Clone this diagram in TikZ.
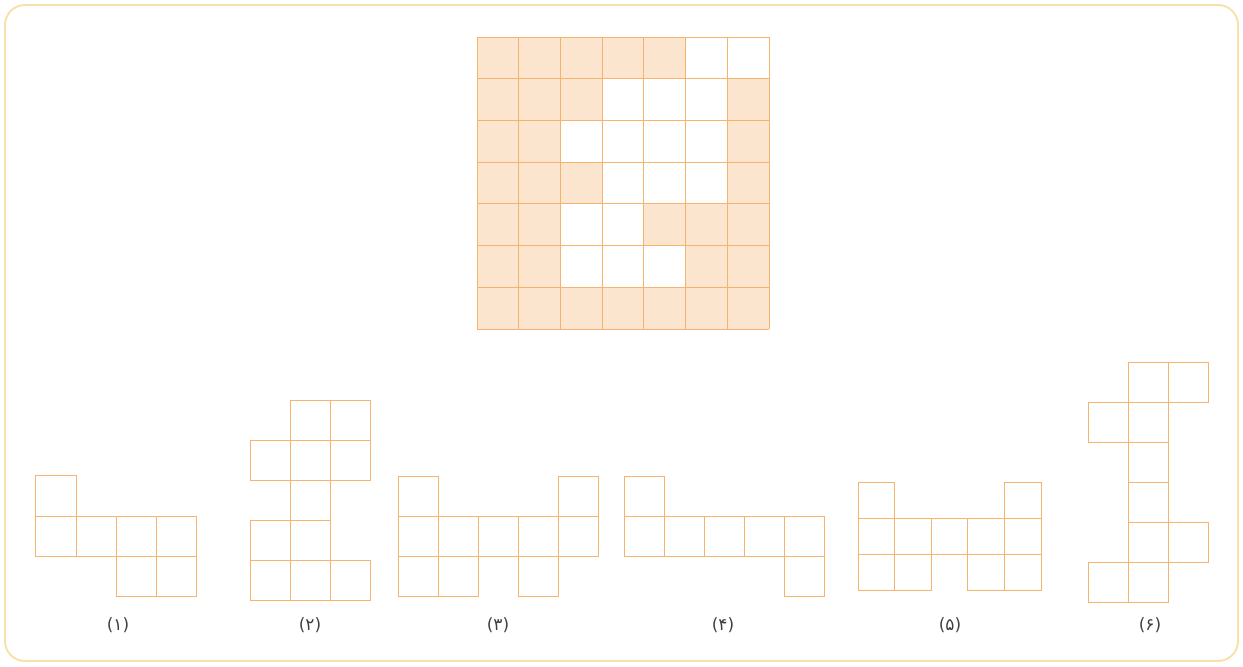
\documentclass[tikz,border=0pt]{standalone}
\usepackage{fontspec}
\newfontfamily\persianfont[Script=Arabic]{DejaVu Sans}
\usetikzlibrary{positioning}
\definecolor{TILE-LINE}{RGB}{245,180,110}
\definecolor{TILE-FILL}{RGB}{252,229,206}
\definecolor{FRAME}{RGB}{246,225,170}
\tikzset{
  cell/.style={draw=TILE-LINE, line width=0.8pt},
  numlabel/.style={font=\persianfont\fontsize{14.5}{16}\selectfont, text=black!75}
}

\begin{document}
\begin{tikzpicture}[x=0.03cm,y=-0.03cm]
  \useasboundingbox (0,0) rectangle (1243,666);
  % outer frame
  \draw[FRAME, line width=1.6pt, rounded corners=17pt] (5,5) rectangle (1238,661);

  % board (7x7)
  \begin{scope}[shift={(477,37)}]
    \fill[TILE-FILL] (0,0) rectangle (292,292);
    \foreach \c/\r in {5/0,6/0,3/1,4/1,5/1,2/2,3/2,4/2,5/2,3/3,4/3,5/3,2/4,3/4,2/5,3/5,4/5}
      \fill[white] (\c*41.71,\r*41.71) rectangle ++(41.71,41.71);
    \foreach \i in {0,...,7} {
      \draw[cell] (\i*41.71,0) -- (\i*41.71,292);
      \draw[cell] (0,\i*41.71) -- (292,\i*41.71);
    }
  \end{scope}

  % piece (1)
  \begin{scope}[shift={(35.7,475.7)}]
    \foreach \c/\r in {0/0,0/1,1/1,2/1,3/1,2/2,3/2}
      \draw[cell] (\c*40.3,\r*40.3) rectangle ++(40.3,40.3);
  \end{scope}
  \node[numlabel] (lab1) at (118,625) {(۱)};

  % piece (2)
  \begin{scope}[shift={(250,400)}]
    \foreach \c/\r in {1/0,2/0,0/1,1/1,2/1,1/2,0/3,1/3,0/4,1/4,2/4}
      \draw[cell] (\c*40.1,\r*40.1) rectangle ++(40.1,40.1);
  \end{scope}
  \node[numlabel] (lab2) at (310,625) {(۲)};

  % piece (3)
  \begin{scope}[shift={(398.3,476)}]
    \foreach \c/\r in {0/0,4/0,0/1,1/1,2/1,3/1,4/1,0/2,1/2,3/2}
      \draw[cell] (\c*40.1,\r*40.1) rectangle ++(40.1,40.1);
  \end{scope}
  \node[numlabel] (lab3) at (498,625) {(۳)};

  % piece (4)
  \begin{scope}[shift={(624.3,476)}]
    \foreach \c/\r in {0/0,0/1,1/1,2/1,3/1,4/1,4/2}
      \draw[cell] (\c*40,\r*40) rectangle ++(40,40);
  \end{scope}
  \node[numlabel] (lab4) at (723,625) {(۴)};

  % piece (5)
  \begin{scope}[shift={(858.3,482.3)}]
    \foreach \c/\r in {0/0,4/0,0/1,1/1,2/1,3/1,4/1,0/2,1/2,3/2,4/2}
      \draw[cell] (\c*36.55,\r*35.9) rectangle ++(36.55,35.9);
  \end{scope}
  \node[numlabel] (lab5) at (950,625) {(۵)};

  % piece (6)
  \begin{scope}[shift={(1088.3,362.3)}]
    \foreach \c/\r in {1/0,2/0,0/1,1/1,1/2,1/3,1/4,2/4,0/5,1/5}
      \draw[cell] (\c*40,\r*40) rectangle ++(40,40);
  \end{scope}
  \node[numlabel] (lab6) at (1150,625) {(۶)};
\end{tikzpicture}
\end{document}
